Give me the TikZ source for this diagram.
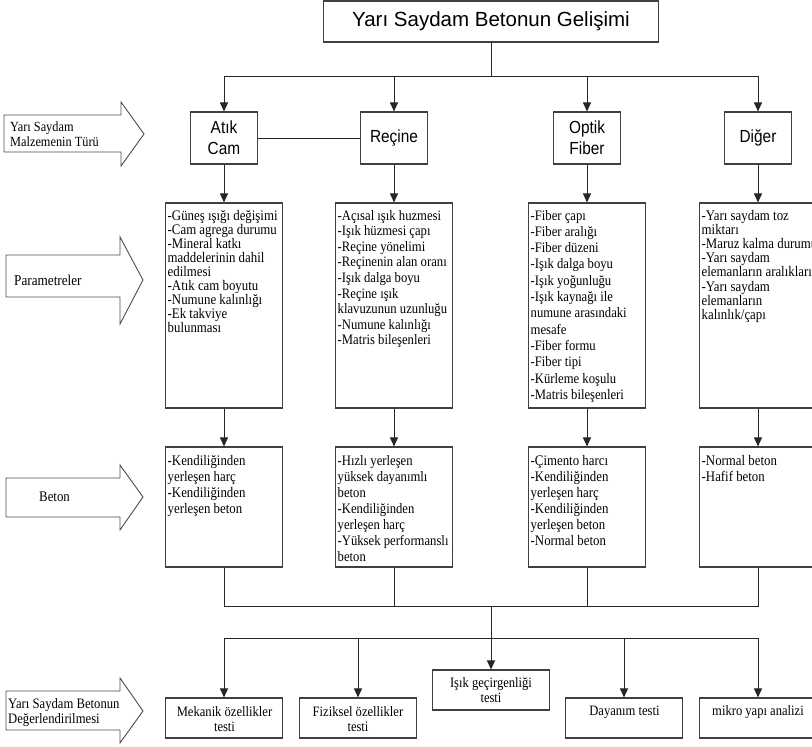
\documentclass[tikz,border=0pt]{standalone}
\usepackage{fontspec}
\setmainfont{Liberation Serif}
\newfontfamily\serifn{Liberation Serif}[FakeStretch=0.88]
\newfontfamily\arialf{Liberation Sans}
\newfontfamily\arialn{Liberation Sans}[FakeStretch=0.88]
\usetikzlibrary{arrows.meta}
\begin{document}
\begin{tikzpicture}[x=1pt,y=-1pt,
  ln/.style={line width=1pt, draw=black!85},
  arr/.style={ln, -{Triangle[length=9pt,width=8pt]}},
  bx/.style={draw=black!75, line width=1.1pt, inner sep=0pt},
  tbox/.style={bx, minimum width=67pt, minimum height=52pt, align=center, font=\arialn\fontsize{17.5}{21}\selectfont},
  pbox/.style={bx, minimum width=117pt, minimum height=205pt},
  cbox/.style={bx, minimum width=117pt, minimum height=120pt},
  ebox/.style={bx, minimum width=117pt, minimum height=40pt},
  etxt/.style={inner sep=0pt, align=center, font=\serifn\fontsize{14.3}{15}\selectfont},
  txt/.style={anchor=base west, inner sep=0pt},
  lbl/.style={inner sep=0pt, anchor=west, align=left},
  bigarrow/.style={draw=black!70, line width=0.9pt},
]
\useasboundingbox (0,0) rectangle (812,747);
\begin{scope}
\clip (0,0) rectangle (812,747);

% title
\node[bx, minimum width=335pt, minimum height=41pt, font=\arialf\fontsize{20.5}{24}\selectfont] (title) at (491,21.5) {Yarı Saydam Betonun Gelişimi};

% type boxes
\node[tbox] (a1) at (224,138) {Atık\\Cam};
\node[tbox] (r1) at (394,138) {Reçine};
\node[tbox] (o1) at (587,138) {Optik\\Fiber};
\node[tbox] (d1) at (758,138) {Diğer};

% parameter boxes
\node[pbox] (a2) at (224,305.5) {};
\node[pbox] (r2) at (394,305.5) {};
\node[pbox] (o2) at (587,305.5) {};
\node[pbox] (d2) at (758,305.5) {};

\node[txt] (a2t) at (167.5,220) {\parbox[t]{140pt}{\serifn\fontsize{14.6}{14}\selectfont
-Güneş ışığı değişimi\\-Cam agrega durumu\\-Mineral katkı\\maddelerinin dahil\\edilmesi\\-Atık cam boyutu\\-Numune kalınlığı\\-Ek takviye\\bulunması}};
\node[txt] (r2t) at (337.5,220) {\parbox[t]{140pt}{\serifn\fontsize{14.4}{15.6}\selectfont
-Açısal ışık huzmesi\\-Işık hüzmesi çapı\\-Reçine yönelimi\\-Reçinenin alan oranı\\-Işık dalga boyu\\-Reçine ışık\\klavuzunun uzunluğu\\-Numune kalınlığı\\-Matris bileşenleri}};
\node[txt] (o2t) at (530.5,220) {\parbox[t]{140pt}{\serifn\fontsize{14.4}{16.3}\selectfont
-Fiber çapı\\-Fiber aralığı\\-Fiber düzeni\\-Işık dalga boyu\\-Işık yoğunluğu\\-Işık kaynağı ile\\numune arasındaki\\mesafe\\-Fiber formu\\-Fiber tipi\\-Kürleme koşulu\\-Matris bileşenleri}};
\node[txt] (d2t) at (701.5,220) {\parbox[t]{140pt}{\serifn\fontsize{14.6}{14.2}\selectfont
-Yarı saydam toz\\miktarı\\-Maruz kalma durumu\\-Yarı saydam\\elemanların aralıkları\\-Yarı saydam\\elemanların\\kalınlık/çapı}};

% concrete boxes
\node[cbox] (a3) at (224,507) {};
\node[cbox] (r3) at (394,507) {};
\node[cbox] (o3) at (587,507) {};
\node[cbox] (d3) at (758,507) {};

\node[txt] (a3t) at (167.5,465) {\parbox[t]{140pt}{\serifn\fontsize{14.6}{16}\selectfont
-Kendiliğinden\\yerleşen harç\\-Kendiliğinden\\yerleşen beton}};
\node[txt] (r3t) at (337.5,465) {\parbox[t]{140pt}{\serifn\fontsize{14.4}{16}\selectfont
-Hızlı yerleşen\\yüksek dayanımlı\\beton\\-Kendiliğinden\\yerleşen harç\\-Yüksek performanslı\\beton}};
\node[txt] (o3t) at (530.5,465) {\parbox[t]{140pt}{\serifn\fontsize{14.6}{16}\selectfont
-Çimento harcı\\-Kendiliğinden\\yerleşen harç\\-Kendiliğinden\\yerleşen beton\\-Normal beton}};
\node[txt] (d3t) at (701.5,465) {\parbox[t]{140pt}{\serifn\fontsize{14.6}{16}\selectfont
-Normal beton\\-Hafif beton}};

% evaluation boxes
\node[ebox] (e1) at (224,718) {};
\node[ebox] (e2) at (358,718) {};
\node[ebox] (e3) at (491,690) {};
\node[ebox] (e4) at (624,718) {};
\node[ebox] (e5) at (758,718) {};
\node[etxt] (e1t) at (224.5,719.5) {Mekanik özellikler\\testi};
\node[etxt] (e2t) at (358,719.5) {Fiziksel özellikler\\testi};
\node[etxt] (e3t) at (491,690.5) {Işık geçirgenliği\\testi};
\node[etxt] (e4t) at (624.5,712.5) {Dayanım testi};
\node[etxt] (e5t) at (758,712.5) {mikro yapı analizi};

% left block arrows
\draw[bigarrow] (4,115) -- (121,115) -- (121,102) -- (144,134) -- (121,166) -- (121,152) -- (4,152) -- cycle;
\node[lbl, font=\serifn\fontsize{14}{15}\selectfont] (L1) at (10,134.5) {Yarı Saydam\\Malzemenin Türü};
\draw[bigarrow] (6,255) -- (120,255) -- (120,237) -- (143,280) -- (120,324) -- (120,297) -- (6,297) -- cycle;
\node[lbl, font=\serifn\fontsize{15}{16}\selectfont] (L2) at (14,280) {Parametreler};
\draw[bigarrow] (6,478) -- (120,478) -- (120,465) -- (143,497) -- (120,530) -- (120,517) -- (6,517) -- cycle;
\node[lbl, font=\serifn\fontsize{14.6}{16}\selectfont] (L3) at (39,497) {Beton};
\draw[bigarrow] (6,691) -- (120,691) -- (120,678) -- (143,711) -- (120,743) -- (120,730) -- (6,730) -- cycle;
\node[lbl, font=\serifn\fontsize{14.4}{15}\selectfont] (L4) at (8,712.5) {Yarı Saydam Betonun\\Değerlendirilmesi};

% connectors top
\coordinate (tj) at (491,76);
\coordinate (tl) at (224,76);
\coordinate (t2) at (394,76);
\coordinate (t3) at (587,76);
\coordinate (tr) at (758,76);
\draw[ln] (title) -- (tj);
\draw[ln] (tl) -- (tr);
\draw[arr] (tl) -- (a1);
\draw[arr] (t2) -- (r1);
\draw[arr] (t3) -- (o1);
\draw[arr] (tr) -- (d1);
\draw[ln] (a1) -- (r1);

% columns
\draw[arr] (a1) -- (a2);
\draw[arr] (r1) -- (r2);
\draw[arr] (o1) -- (o2);
\draw[arr] (d1) -- (d2);
\draw[arr] (a2) -- (a3);
\draw[arr] (r2) -- (r3);
\draw[arr] (o2) -- (o3);
\draw[arr] (d2) -- (d3);

% merge
\coordinate (bl) at (224,606);
\coordinate (b2) at (394,606);
\coordinate (b3) at (587,606);
\coordinate (br) at (758,606);
\coordinate (mj) at (491,606);
\draw[ln] (a3) -- (bl) -- (br) -- (d3);
\draw[ln] (r3) -- (b2);
\draw[ln] (o3) -- (b3);
\draw[arr] (mj) -- (e3);

% lower distribution
\coordinate (ll) at (224,638);
\coordinate (l2) at (358,638);
\coordinate (l4) at (624,638);
\coordinate (lr) at (758,638);
\draw[ln] (ll) -- (lr);
\draw[arr] (ll) -- (e1);
\draw[arr] (l2) -- (e2);
\draw[arr] (l4) -- (e4);
\draw[arr] (lr) -- (e5);
\end{scope}
\end{tikzpicture}
\end{document}
